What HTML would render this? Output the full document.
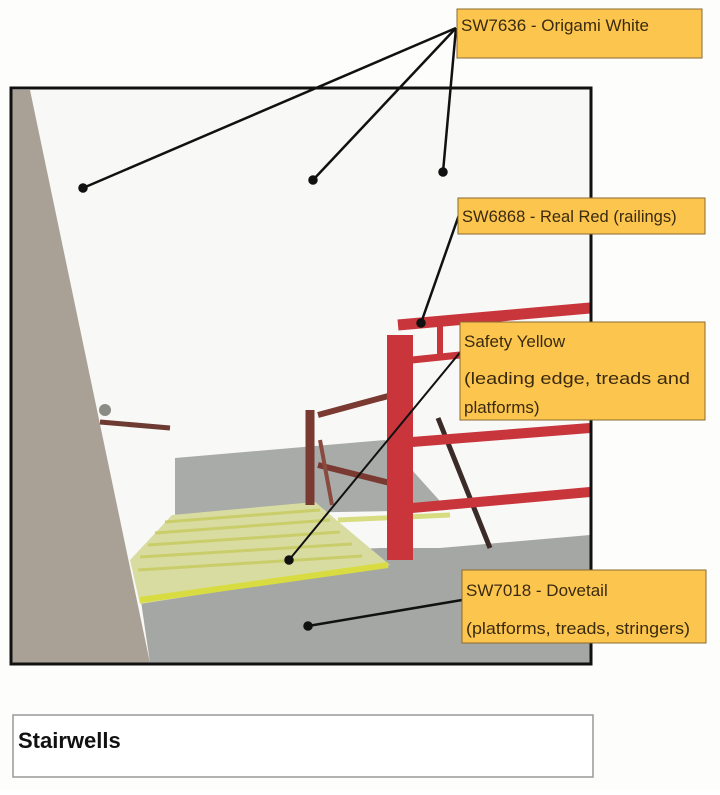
<!DOCTYPE html>
<html><head><style>
body{margin:0;background:#fff;}
svg text{font-family:"Liberation Sans",sans-serif;}
</style></head><body>
<svg width="720" height="790" viewBox="0 0 720 790" xmlns="http://www.w3.org/2000/svg">
<rect x="0" y="0" width="720" height="790" fill="#fdfdfc"/>
<rect x="11" y="88" width="580" height="576" fill="#f8f8f7"/>
<polygon points="175,458 385,440 448,510 175,515" fill="#a9aba8"/>
<polygon points="135,560 380,548 440,548 590,535 590,663 150,663" fill="#a5a7a4"/>
<polygon points="130,560 172,515 315,502 390,565 140,604" fill="#d9dca0"/>
<g stroke="#c9cd6a" stroke-width="3">
<line x1="165" y1="522" x2="320" y2="510"/>
<line x1="155" y1="533" x2="330" y2="520"/>
<line x1="148" y1="545" x2="340" y2="532"/>
<line x1="140" y1="557" x2="352" y2="544"/>
<line x1="138" y1="570" x2="362" y2="556"/>
</g>
<line x1="140" y1="600" x2="388" y2="565" stroke="#d8dc40" stroke-width="6"/>
<line x1="338" y1="520" x2="450" y2="515" stroke="#d8dc80" stroke-width="5"/>
<polygon points="12,90 30,90 150,663 12,663" fill="#aaa196"/>
<line x1="100" y1="422" x2="170" y2="428" stroke="#6e3b33" stroke-width="5"/>
<circle cx="105" cy="410" r="6" fill="#8c8c86"/>
<line x1="310" y1="410" x2="310" y2="505" stroke="#7a3a32" stroke-width="9"/>
<line x1="318" y1="415" x2="392" y2="395" stroke="#7a3a32" stroke-width="6"/>
<line x1="318" y1="465" x2="390" y2="483" stroke="#7a3a32" stroke-width="6"/>
<line x1="320" y1="440" x2="332" y2="505" stroke="#8a4a40" stroke-width="4"/>
<line x1="438" y1="418" x2="490" y2="548" stroke="#3a2a28" stroke-width="5"/>
<line x1="398" y1="325" x2="590" y2="308" stroke="#c8363c" stroke-width="11"/>
<line x1="412" y1="442" x2="590" y2="428" stroke="#c8363c" stroke-width="10"/>
<line x1="412" y1="508" x2="590" y2="492" stroke="#c8363c" stroke-width="10"/>
<line x1="412" y1="360" x2="460" y2="355" stroke="#c8363c" stroke-width="7"/>
<line x1="440" y1="325" x2="440" y2="360" stroke="#c8363c" stroke-width="6"/>
<rect x="387" y="335" width="26" height="225" fill="#c9353b"/>
<rect x="11" y="88" width="580" height="576" fill="none" stroke="#111" stroke-width="3"/>
<g stroke="#111" stroke-width="2.5" fill="#111">
<line x1="456" y1="28" x2="83" y2="188"/>
<line x1="456" y1="28" x2="313" y2="180"/>
<line x1="456" y1="28" x2="443" y2="172"/>
<line x1="460" y1="212" x2="421" y2="323"/>
<line x1="462" y1="350" x2="289" y2="560" stroke-width="2"/>
<line x1="462" y1="600" x2="308" y2="626"/>
<circle cx="83" cy="188" r="3.5"/><circle cx="313" cy="180" r="3.5"/><circle cx="443" cy="172" r="3.5"/>
<circle cx="421" cy="323" r="3.5"/><circle cx="289" cy="560" r="3.5"/><circle cx="308" cy="626" r="3.5"/>
</g>
<g fill="#fcc64e" stroke="#8a6a30" stroke-width="1">
<rect x="457" y="9" width="245" height="49"/>
<rect x="458" y="198" width="247" height="36"/>
<rect x="460" y="322" width="245" height="98"/>
<rect x="462" y="570" width="244" height="73"/>
</g>
<g fill="#3a2a10">
<text x="461" y="31" font-size="17">SW7636 - Origami White</text>
<text x="462" y="222" font-size="16.5">SW6868 - Real Red (railings)</text>
<text x="464" y="347" font-size="17">Safety Yellow</text>
<text x="464" y="384" font-size="17" textLength="226" lengthAdjust="spacingAndGlyphs">(leading edge, treads and</text>
<text x="464" y="413" font-size="17">platforms)</text>
<text x="466" y="596" font-size="17">SW7018 - Dovetail</text>
<text x="466" y="634" font-size="17" textLength="224" lengthAdjust="spacingAndGlyphs">(platforms, treads, stringers)</text>
</g>
<rect x="13" y="715" width="580" height="62" fill="#fff" stroke="#999" stroke-width="1.5"/>
<text x="18" y="748" font-size="22" font-weight="bold" fill="#111">Stairwells</text>
</svg>
</body></html>
